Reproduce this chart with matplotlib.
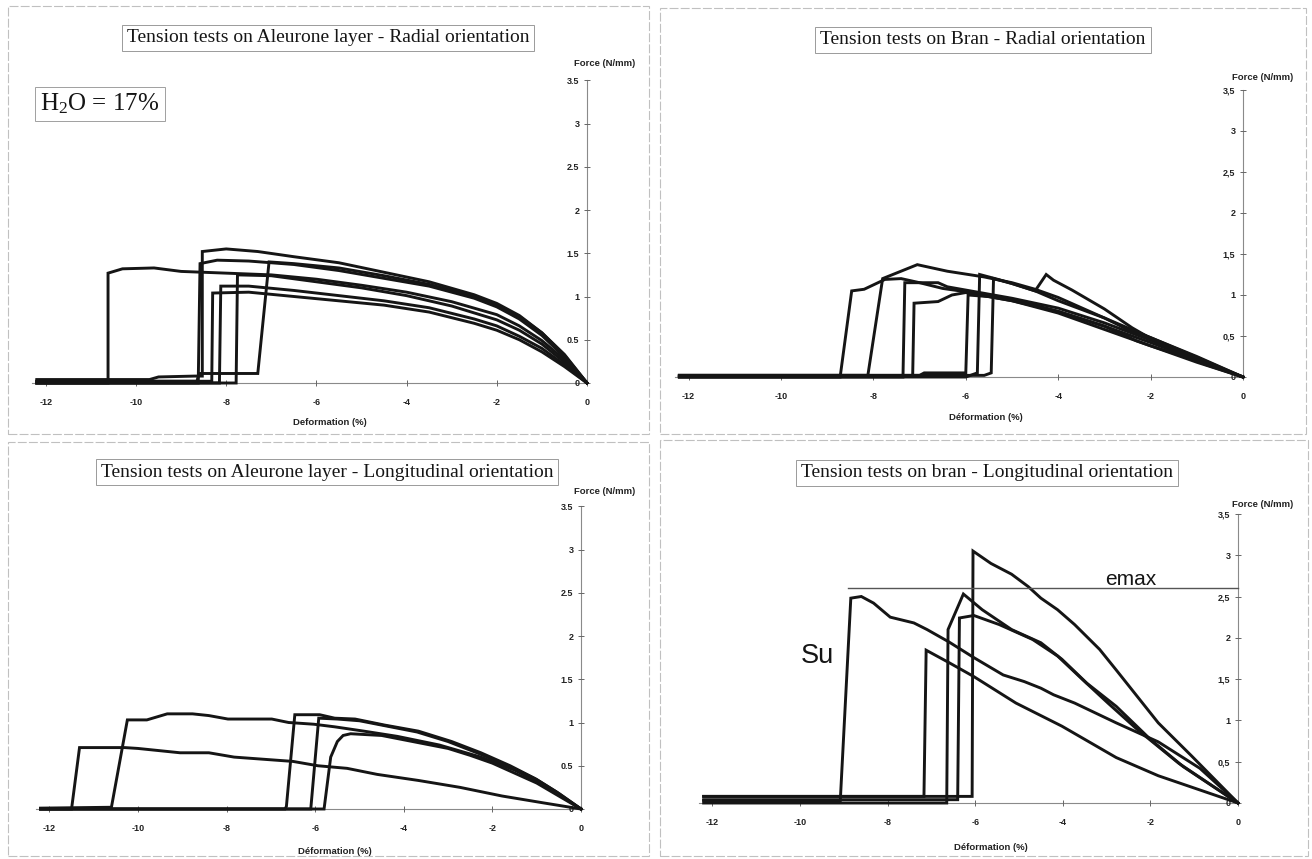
import matplotlib
matplotlib.use('Agg')
import matplotlib.pyplot as plt
from matplotlib.patches import Rectangle

plt.rcParams['axes.unicode_minus'] = False
plt.rcParams['mathtext.fontset'] = 'custom'
plt.rcParams['mathtext.rm'] = 'Liberation Serif'
plt.rcParams['font.family'] = ['Liberation Sans', 'DejaVu Sans']

# ---------------- data ----------------
x_ticks = [-12, -10, -8, -6, -4, -2, 0]
x_tick_labels = ['-12', '-10', '-8', '-6', '-4', '-2', '0']
y_ticks = [0, 0.5, 1, 1.5, 2, 2.5, 3, 3.5]
y_labels_dot = ['0', '0.5', '1', '1.5', '2', '2.5', '3', '3.5']
y_labels_comma = ['0', '0,5', '1', '1,5', '2', '2,5', '3', '3,5']

titles = ['Tension tests on Aleurone layer - Radial orientation',
          'Tension tests on Bran - Radial orientation',
          'Tension tests on Aleurone layer - Longitudinal orientation',
          'Tension tests on bran - Longitudinal orientation']
x_labels = ['Deformation (%)', 'Déformation (%)', 'Déformation (%)', 'Déformation (%)']
y_label = 'Force (N/mm)'

# Aleurone layer - radial
ar_a_x = [-12.2, -10.62, -10.62, -10.3, -9.6, -9.0, -8.0, -7.0, -6.0, -5.0, -4.0, -3.0, -2.0, -1.5, -1.0, -0.5, 0]
ar_a_y = [0.0, 0.0, 1.27, 1.32, 1.33, 1.29, 1.27, 1.25, 1.20, 1.13, 1.05, 0.94, 0.79, 0.66, 0.49, 0.27, 0]
ar_b_x = [-12.2, -9.7, -9.5, -8.7, -8.53, -8.53, -8.0, -7.3, -6.5, -5.5, -4.5, -3.5, -2.5, -2.0, -1.5, -1.0, -0.5, 0]
ar_b_y = [0.04, 0.04, 0.07, 0.08, 0.08, 1.52, 1.55, 1.52, 1.46, 1.39, 1.28, 1.17, 1.02, 0.92, 0.78, 0.58, 0.32, 0]
ar_c_x = [-12.2, -8.62, -8.58, -8.2, -7.5, -6.5, -5.5, -4.5, -3.5, -2.5, -2.0, -1.5, -1.0, -0.5, 0]
ar_c_y = [0.0, 0.0, 1.38, 1.42, 1.41, 1.37, 1.30, 1.21, 1.12, 0.98, 0.88, 0.74, 0.55, 0.30, 0]
ar_d_x = [-12.2, -8.65, -8.6, -7.3, -7.05, -6.5, -5.5, -4.5, -3.5, -2.5, -2.0, -1.5, -1.0, -0.5, 0]
ar_d_y = [0.02, 0.02, 0.11, 0.11, 1.40, 1.38, 1.33, 1.24, 1.14, 1.0, 0.90, 0.77, 0.58, 0.33, 0]
ar_e_x = [-12.2, -7.78, -7.75, -7.0, -6.0, -5.0, -4.0, -3.0, -2.0, -1.5, -1.0, -0.5, 0]
ar_e_y = [0.0, 0.0, 1.25, 1.24, 1.17, 1.10, 1.01, 0.89, 0.73, 0.61, 0.45, 0.24, 0]
ar_f_x = [-12.2, -8.15, -8.12, -7.5, -6.5, -5.5, -4.5, -3.5, -2.5, -2.0, -1.5, -1.0, -0.5, 0]
ar_f_y = [0.0, 0.0, 1.12, 1.12, 1.07, 1.01, 0.95, 0.87, 0.74, 0.66, 0.54, 0.40, 0.21, 0]
ar_g_x = [-12.2, -8.32, -8.3, -7.5, -6.5, -5.5, -4.5, -3.5, -2.5, -2.0, -1.5, -1.0, -0.5, 0]
ar_g_y = [0.02, 0.02, 1.04, 1.05, 1.0, 0.95, 0.90, 0.82, 0.69, 0.61, 0.50, 0.36, 0.19, 0]

# Bran - radial
br_a_x = [-12.2, -8.72, -8.47, -8.2, -7.75, -7.4, -7.0, -6.5, -6.0, -5.0, -4.0, -3.0, -2.3, -2.0, -1.0, 0]
br_a_y = [0.0, 0.0, 1.05, 1.07, 1.19, 1.2, 1.15, 1.08, 1.04, 0.95, 0.80, 0.62, 0.44, 0.38, 0.2, 0]
br_b_x = [-12.2, -8.12, -7.8, -7.05, -6.4, -5.6, -5.0, -4.5, -4.0, -3.0, -2.5, -2.0, -1.0, 0]
br_b_y = [0.02, 0.02, 1.2, 1.37, 1.29, 1.22, 1.15, 1.07, 0.97, 0.72, 0.58, 0.48, 0.25, 0]
br_c_x = [-12.2, -7.36, -7.32, -6.6, -6.4, -6.0, -5.0, -4.0, -3.0, -2.0, -1.0, 0]
br_c_y = [0.0, 0.0, 1.15, 1.15, 1.10, 1.06, 0.96, 0.84, 0.66, 0.45, 0.22, 0]
br_d_x = [-12.2, -7.15, -7.12, -6.6, -6.3, -6.0, -5.0, -4.0, -3.0, -2.0, -1.0, 0]
br_d_y = [0.01, 0.01, 0.90, 0.92, 1.0, 1.03, 0.93, 0.78, 0.58, 0.38, 0.18, 0]
br_e_x = [-12.2, -7.0, -6.9, -6.0, -5.95, -5.5, -5.0, -4.0, -3.0, -2.0, -1.0, 0]
br_e_y = [0.02, 0.02, 0.05, 0.05, 1.0, 0.98, 0.93, 0.80, 0.62, 0.42, 0.21, 0]
br_f_x = [-12.2, -6.0, -5.75, -5.7, -5.3, -5.0, -4.5, -4.26, -4.1, -3.7, -3.0, -2.4, -2.0, -1.4, -0.8, 0]
br_f_y = [0.0, 0.0, 0.05, 1.25, 1.19, 1.14, 1.05, 1.25, 1.18, 1.06, 0.83, 0.6, 0.47, 0.3, 0.15, 0]
br_g_x = [-12.2, -5.6, -5.45, -5.4, -5.0, -4.5, -4.0, -3.0, -2.0, -1.0, 0]
br_g_y = [0.02, 0.02, 0.05, 1.2, 1.14, 1.05, 0.93, 0.72, 0.48, 0.24, 0]

# Aleurone layer - longitudinal
al_a_x = [-12.2, -11.5, -11.32, -10.3, -10.0, -9.05, -8.4, -7.83, -6.5, -5.94, -5.28, -4.6, -3.67, -2.73, -1.78, -0.84, 0]
al_a_y = [0.0, 0.0, 0.71, 0.71, 0.70, 0.65, 0.65, 0.60, 0.55, 0.50, 0.47, 0.40, 0.33, 0.25, 0.15, 0.07, 0]
al_b_x = [-12.2, -10.6, -10.24, -9.8, -9.34, -8.77, -8.4, -7.97, -6.98, -6.6, -6.03, -5.56, -4.9, -4.15, -3.2, -2.26, -1.5, -0.84, 0]
al_b_y = [0.01, 0.02, 1.03, 1.03, 1.10, 1.10, 1.08, 1.04, 1.04, 1.0, 0.98, 0.95, 0.90, 0.84, 0.74, 0.60, 0.45, 0.28, 0]
al_c_x = [-12.2, -6.68, -6.65, -6.46, -5.9, -5.56, -5.1, -4.43, -3.67, -2.92, -2.26, -1.6, -1.03, -0.56, 0]
al_c_y = [0.0, 0.0, 0.03, 1.09, 1.09, 1.05, 1.04, 0.97, 0.90, 0.78, 0.65, 0.50, 0.35, 0.2, 0]
al_d_x = [-12.2, -6.1, -5.92, -5.5, -5.0, -4.4, -3.7, -3.0, -2.3, -1.6, -1.0, -0.5, 0]
al_d_y = [0.0, 0.0, 1.05, 1.04, 1.02, 0.96, 0.89, 0.78, 0.64, 0.49, 0.34, 0.18, 0]
al_e_x = [-12.2, -5.8, -5.65, -5.5, -5.37, -5.2, -4.5, -4.0, -3.0, -2.5, -2.0, -1.0, 0]
al_e_y = [0.0, 0.0, 0.6, 0.78, 0.85, 0.87, 0.85, 0.80, 0.70, 0.62, 0.53, 0.30, 0]

# Bran - longitudinal
bl_a_x = [-12.2, -9.1, -9.08, -8.84, -8.6, -8.32, -7.94, -7.4, -7.1, -6.6, -6.03, -5.36, -4.88, -4.5, -4.21, -3.73, -2.78, -1.82, -0.87, 0]
bl_a_y = [0.03, 0.03, 0.03, 2.48, 2.5, 2.42, 2.25, 2.18, 2.1, 1.95, 1.76, 1.55, 1.47, 1.39, 1.31, 1.21, 0.97, 0.74, 0.42, 0]
bl_b_x = [-12.2, -7.17, -7.12, -6.6, -6.03, -5.07, -4.02, -2.78, -1.82, 0]
bl_b_y = [0.08, 0.08, 1.85, 1.70, 1.53, 1.21, 0.93, 0.55, 0.33, 0]
bl_c_x = [-12.2, -6.65, -6.62, -6.27, -5.84, -5.17, -4.5, -4.02, -3.45, -2.78, -2.0, -1.25, 0]
bl_c_y = [0.0, 0.0, 2.1, 2.53, 2.34, 2.1, 1.94, 1.74, 1.45, 1.17, 0.77, 0.44, 0]
bl_d_x = [-12.2, -6.4, -6.36, -6.03, -5.45, -4.69, -4.12, -3.54, -2.97, -2.3, -1.35, 0]
bl_d_y = [0.04, 0.04, 2.24, 2.27, 2.16, 1.98, 1.78, 1.49, 1.21, 0.89, 0.48, 0]
bl_e_x = [-12.2, -6.07, -6.05, -5.64, -5.17, -4.79, -4.5, -4.12, -3.73, -3.16, -2.78, -2.3, -1.82, -1.06, 0]
bl_e_y = [0.08, 0.08, 3.05, 2.9, 2.77, 2.62, 2.48, 2.34, 2.16, 1.86, 1.61, 1.29, 0.97, 0.57, 0]
emax_x = [-8.9, 0]
emax_y = [2.6, 2.6]

# ---------------- figure ----------------
W, H = 1312, 859
fig = plt.figure(figsize=(W / 100, H / 100), dpi=100)
fig.patch.set_facecolor('white')

LINE = dict(color='#151515', lw=2.1, solid_joinstyle='miter')


def px_rect(x, y, w, h, **kw):
    fig.add_artist(Rectangle((x / W, 1 - (y + h) / H), w / W, h / H,
                             transform=fig.transFigure, fill=False, **kw))


def fig_text(x, y, s, **kw):
    return fig.text(x / W, 1 - y / H, s, **kw)


def make_axes(x0, sx, y0, sy, ylabels, xmin=-12.45, xmax=0.45, ymin=-0.1, ymax=3.62):
    left = x0 + xmin * sx
    right = x0 + xmax * sx
    top = y0 - ymax * sy
    bottom = y0 - ymin * sy
    ax = fig.add_axes([left / W, 1 - bottom / H, (right - left) / W, (bottom - top) / H])
    ax.set_xlim(xmin, xmax)
    ax.set_ylim(ymin, ymax)
    ax.patch.set_alpha(0)
    for s in ('top', 'right'):
        ax.spines[s].set_visible(False)
    ax.spines['left'].set_position(('data', 0))
    ax.spines['bottom'].set_position(('data', 0))
    ax.spines['left'].set_bounds(0, 3.5)
    ax.spines['bottom'].set_bounds(-12.3, 0)
    for s in ('left', 'bottom'):
        ax.spines[s].set_color('#8a8a8a')
        ax.spines[s].set_linewidth(0.8)
        ax.spines[s].set_zorder(1)
    ax.set_xticks(x_ticks)
    ax.set_xticklabels(x_tick_labels, fontsize=6.5, fontweight='bold', color='#222222')
    ax.set_yticks(y_ticks)
    ax.set_yticklabels(ylabels, fontsize=6.5, fontweight='bold', color='#222222')
    ax.tick_params(axis='x', direction='inout', length=4, width=0.7, color='#666666', pad=9)
    ax.tick_params(axis='y', direction='inout', length=5, width=0.7, color='#666666', pad=3)
    return ax


# panel frames (scanned boxes)
frame_kw = dict(ec='#c0c0c0', lw=0.8, ls=(0, (8, 2)))
px_rect(8, 6, 641, 428, **frame_kw)
px_rect(660, 8, 646, 426, **frame_kw)
px_rect(8, 442, 641, 414, **frame_kw)
px_rect(660, 440, 648, 416, **frame_kw)

# ---------- panel 1 ----------
ax1 = make_axes(587, 45.1, 383, 86.5, y_labels_dot)
for xs, ys in [(ar_a_x, ar_a_y), (ar_b_x, ar_b_y), (ar_c_x, ar_c_y), (ar_d_x, ar_d_y),
               (ar_e_x, ar_e_y), (ar_f_x, ar_f_y), (ar_g_x, ar_g_y)]:
    ax1.plot(xs, ys, **LINE)

# ---------- panel 2 ----------
ax2 = make_axes(1243, 46.2, 377, 82, y_labels_comma)
for xs, ys in [(br_a_x, br_a_y), (br_b_x, br_b_y), (br_c_x, br_c_y), (br_d_x, br_d_y),
               (br_e_x, br_e_y), (br_f_x, br_f_y), (br_g_x, br_g_y)]:
    ax2.plot(xs, ys, **LINE)

# ---------- panel 3 ----------
ax3 = make_axes(581, 44.3, 809, 86.5, y_labels_dot)
for xs, ys in [(al_a_x, al_a_y), (al_b_x, al_b_y), (al_c_x, al_c_y), (al_d_x, al_d_y),
               (al_e_x, al_e_y)]:
    ax3.plot(xs, ys, **LINE)

# ---------- panel 4 ----------
ax4 = make_axes(1238, 43.8, 803, 82.6, y_labels_comma)
for xs, ys in [(bl_a_x, bl_a_y), (bl_b_x, bl_b_y), (bl_c_x, bl_c_y), (bl_d_x, bl_d_y),
               (bl_e_x, bl_e_y)]:
    ax4.plot(xs, ys, **LINE)
ax4.plot(emax_x, emax_y, color='#555555', lw=1.0)
ax4.text(-2.45, 2.70, 'emax', fontsize=15, family='Liberation Sans', color='#151515',
         ha='center', va='center')
ax4.text(-9.6, 1.78, 'Su', fontsize=19.5, family='Liberation Sans', color='#151515',
         ha='center', va='center')

# ---------- titles ----------
title_pos = [(328, 38), (983, 40), (327, 472), (987, 473)]
for (cx, cy), t in zip(title_pos, titles):
    fig_text(cx, cy, t, ha='center', va='center', family='Liberation Serif', fontsize=14,
             color='#151515',
             bbox=dict(boxstyle='square,pad=0.25', fc='white', ec='#9a9a9a', lw=0.7))

# ---------- axis labels ----------
xlab_pos = [(330, 422), (986, 417), (335, 852), (991, 848)]
for (cx, cy), t in zip(xlab_pos, x_labels):
    fig_text(cx, cy, t, ha='center', va='center', fontsize=6.8, fontweight='bold', color='#222222')
ylab_pos = [(605, 64), (1263, 77), (605, 492), (1263, 505)]
for (cx, cy) in ylab_pos:
    fig_text(cx, cy, y_label, ha='center', va='center', fontsize=6.8, fontweight='bold', color='#222222')

# H2O annotation
fig_text(100, 104, r'$\mathrm{H_2O}$ = 17%', ha='center', va='center', family='Liberation Serif',
         fontsize=18, color='#151515',
         bbox=dict(boxstyle='square,pad=0.2', fc='white', ec='#a0a0a0', lw=0.7))

fig.savefig('out.png', dpi=100, facecolor='white')
